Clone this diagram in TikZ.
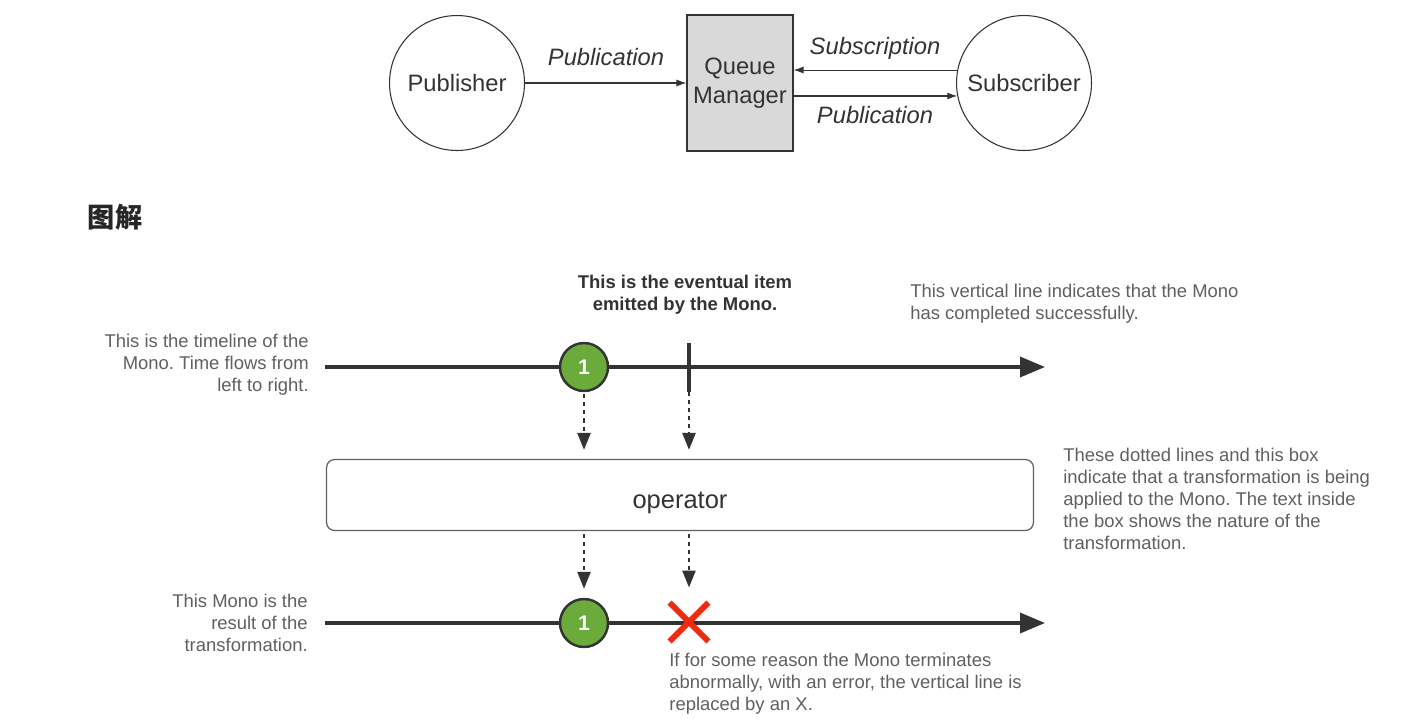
\documentclass[tikz,border=0pt]{standalone}
\usepackage{fontspec}
\setmainfont{Liberation Sans}
\newfontfamily\cjk{Noto Sans CJK SC}
\usepackage{tikz}
\usetikzlibrary{arrows.meta}
\usetikzlibrary{shapes.misc}
\definecolor{notegray}{HTML}{606060}
\definecolor{linegray}{HTML}{333333}
\definecolor{itemgreen}{HTML}{6AAB3C}
\definecolor{errred}{HTML}{F02A10}
\definecolor{boxgray}{HTML}{D9D9D9}
\frenchspacing

\begin{document}
\begin{tikzpicture}[x=0.02cm,y=-0.02cm,
		actor/.style={draw=linegray, circle, line width=0.6pt, minimum size=2.7cm, inner sep=0pt, text=linegray, font=\fontsize{13.5}{16}\selectfont},
		msg/.style={draw=linegray, line width=0.6pt, -{Latex[length=0.2cm, width=0.14cm]}},
		msglabel/.style={text=linegray, font=\fontsize{13.5}{16}\selectfont\itshape},
		note/.style={text=notegray, inner sep=0pt, font=\fontsize{10.5}{12.5}\selectfont},
		item/.style={circle, draw=linegray, line width=1.4pt, fill=itemgreen, minimum size=0.96cm, inner sep=0pt, text=white, font=\fontsize{12}{12}\selectfont\bfseries},
		timeline/.style={draw=linegray, line width=2pt, -{Triangle[length=0.5cm, width=0.4cm]}},
		dots/.style={draw=linegray, line width=1.4pt, dash pattern=on 2.3pt off 2.3pt, -{Triangle[length=0.34cm, width=0.26cm]}}
	]
		\useasboundingbox (0,0) rectangle (1416,721);

		\node[actor] at (457,83) (pub) {Publisher};
		\node[draw=linegray, fill=boxgray, line width=0.6pt, minimum width=2.12cm, minimum height=2.72cm, align=center, text=linegray, font=\fontsize{13.5}{16.5}\selectfont] at (740,83) (qm) {Queue\\Manager};
		\node[actor] at (1024,83) (sub) {Subscriber};

		\draw[msg] (pub) -- (qm);
		\draw[msg] (sub.169) -- (qm.east |- sub.169);
		\draw[msg] (qm.east |- sub.191) -- (sub.191);
		\node[msglabel] at (606,57) (pubLabel) {Publication};
		\node[msglabel] at (875,48) (subLabel) {Subscription};
		\node[msglabel] at (875,115) (backLabel) {Publication};

		\node[font=\fontsize{15.5}{18}\cjk\bfseries, text=black!85] at (115,217) (title) {图解};

		\coordinate (startA) at (325,367);
		\coordinate (endA) at (1045,367);
		\coordinate (startB) at (325,623);
		\coordinate (endB) at (1045,623);
		\coordinate (tickTop) at (689,343);
		\coordinate (tickBot) at (689,392);

		\draw[timeline] (startA) -- (endA);
		\draw[timeline] (startB) -- (endB);
		\draw[draw=linegray, line width=2.8pt] (tickTop) -- (tickBot);

		\node[item] at (584,367) (emit) {1};
		\node[item] at (584,623) (result) {1};
		\node[draw=notegray, line width=0.7pt, rounded corners=0.16cm, minimum width=14.14cm, minimum height=1.42cm, text=linegray, font=\fontsize{14.5}{16}\selectfont] at (680,495) (op) {\raisebox{-0.15cm}[\height][\depth]{operator}};
		\node[cross out, draw=errred, line width=3.4pt, minimum size=0.66cm, inner sep=0pt] at (689,622) (err) {};

		\draw[dots, shorten <=0.04cm, shorten >=0.18cm] (emit.south) -- (op.north -| emit);
		\draw[dots, shorten >=0.18cm] (tickBot) -- (op.north -| tickBot);
		\draw[dots, shorten <=0.06cm, shorten >=0.18cm] (op.south -| emit) -- (result.north);
		\draw[dots, shorten <=0.06cm, shorten >=0.3cm] (op.south -| err) -- (err.north);

		\node[note, anchor=east, align=right] at (309,365) (timelineNote) {This is the timeline of the\\Mono. Time flows from\\left to right.};
		\node[note, align=center, text=linegray, font=\fontsize{10.5}{12.5}\selectfont\bfseries] at (685,295) (emitNote) {This is the eventual item\\emitted by the Mono.};
		\node[note, anchor=west, align=left] at (910,304) (doneNote) {This vertical line indicates that the Mono\\has completed successfully.};
		\node[note, anchor=west, align=left] at (1063,499) (opNote) {These dotted lines and this box\\indicate that a transformation is being\\applied to the Mono. The text inside\\the box shows the nature of the\\transformation.};
		\node[note, anchor=east, align=right] at (308,623) (resultNote) {This Mono is the\\result of the\\transformation.};
		\node[note, anchor=west, align=left] at (669,684) (errNote) {If for some reason the Mono terminates\\abnormally, with an error, the vertical line is\\replaced by an X.};

	\end{tikzpicture}
\end{document}
